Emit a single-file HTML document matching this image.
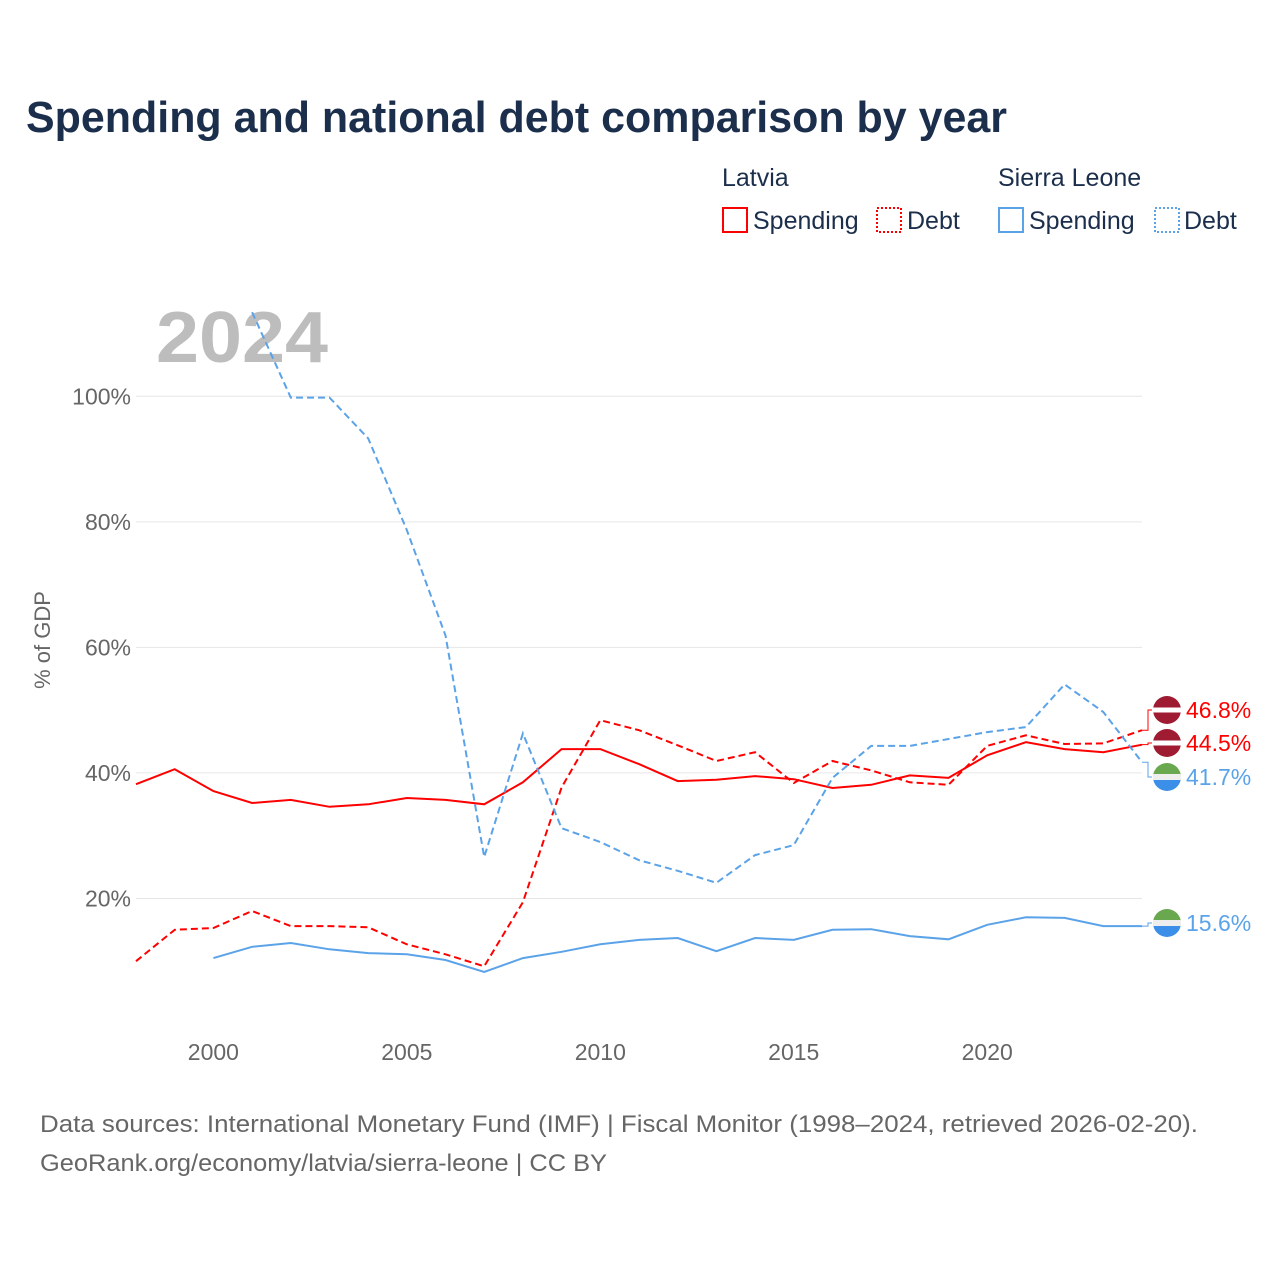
<!DOCTYPE html>
<html><head><meta charset="utf-8"><style>
body{margin:0;background:#fff;width:1280px;height:1280px;overflow:hidden;font-family:"Liberation Sans",sans-serif}
</style></head><body>
<svg id="chart" width="1280" height="1280" xmlns="http://www.w3.org/2000/svg">
<text x="26" y="132" font-size="44" font-weight="bold" fill="#1b2e4b" textLength="981" lengthAdjust="spacingAndGlyphs">Spending and national debt comparison by year</text>
<g font-size="25" fill="#1b2e4b">
<text x="722" y="186">Latvia</text>
<text x="998" y="186">Sierra Leone</text>
<g><rect x="723" y="208" width="24" height="24" fill="none" stroke="#f00" stroke-width="2"/><text x="753" y="229">Spending</text></g>
<g><rect x="877" y="208" width="24" height="24" fill="none" stroke="#f00" stroke-width="2" stroke-dasharray="2,2"/><text x="907" y="229">Debt</text></g>
<g><rect x="999" y="208" width="24" height="24" fill="none" stroke="#5ba3e8" stroke-width="2"/><text x="1029" y="229">Spending</text></g>
<g><rect x="1155" y="208" width="24" height="24" fill="none" stroke="#5ba3e8" stroke-width="2" stroke-dasharray="2,2"/><text x="1184" y="229">Debt</text></g>
</g>
<text x="156" y="362" font-size="72" font-weight="bold" fill="#bdbdbd" textLength="172" lengthAdjust="spacingAndGlyphs">2024</text>
<text transform="translate(50,640) rotate(-90)" text-anchor="middle" font-size="22" fill="#666">% of GDP</text>
<g id="grid"></g><g id="series"></g><g id="labels"></g>
<text x="40" y="1132" font-size="24" fill="#666" textLength="1158" lengthAdjust="spacingAndGlyphs">Data sources: International Monetary Fund (IMF) | Fiscal Monitor (1998–2024, retrieved 2026-02-20).</text>
<text x="40" y="1171" font-size="24" fill="#666" textLength="567" lengthAdjust="spacingAndGlyphs">GeoRank.org/economy/latvia/sierra-leone | CC BY</text>
</svg>
<script>
const years=[1998,1999,2000,2001,2002,2003,2004,2005,2006,2007,2008,2009,2010,2011,2012,2013,2014,2015,2016,2017,2018,2019,2020,2021,2022,2023,2024];
const lvSpending=[38.2,40.6,37.1,35.2,35.7,34.6,35.0,36.0,35.7,35.0,38.5,43.8,43.8,41.4,38.7,38.9,39.5,39.0,37.6,38.1,39.6,39.2,42.8,44.9,43.8,43.3,44.5];
const lvDebt=[10.0,15.0,15.3,18.0,15.6,15.6,15.4,12.7,11.1,9.2,19.4,37.7,48.4,46.8,44.4,41.9,43.3,38.4,41.9,40.4,38.5,38.1,44.3,46.0,44.6,44.7,46.8];
const slSpending=[null,null,10.5,12.3,12.9,11.9,11.3,11.1,10.2,8.3,10.5,11.5,12.7,13.4,13.7,11.6,13.7,13.4,15.0,15.1,14.0,13.5,15.8,17.0,16.9,15.6,15.6];
const slDebt=[null,null,null,113.4,99.8,99.8,93.3,78.7,61.9,26.6,46.3,31.2,29.0,26.1,24.4,22.5,26.9,28.5,39.2,44.3,44.3,45.4,46.5,47.3,54.1,49.7,41.7];
const yTicks=[20,40,60,80,100];
const xTicks=[2000,2005,2010,2015,2020];
const NS="http://www.w3.org/2000/svg";
const X=y=>136+(y-1998)*(1142-136)/26;
const Y=v=>1024-v*6.277;
function mk(t,a,p){const e=document.createElementNS(NS,t);for(const k in a)e.setAttribute(k,a[k]);p.appendChild(e);return e;}
const grid=document.getElementById('grid');
yTicks.forEach(t=>{
 const l=mk('line',{x1:136,x2:1142,y1:Y(t),y2:Y(t),stroke:'#e6e6e6','stroke-width':1},grid);
 
 
 const tx=mk('text',{x:131,y:Y(t)+8,'text-anchor':'end','font-size':23,fill:'#666'},grid);tx.textContent=t+'%';
 
 
});
xTicks.forEach(t=>{
 const tx=mk('text',{x:X(t),y:1060,'text-anchor':'middle','font-size':23,fill:'#666'},grid);tx.textContent=t;
 
 
});
const ser=document.getElementById('series');
function line(vals,color,dash,name){
 let d='';vals.forEach((v,i)=>{if(v==null)return;d+=(d?'L':'M')+X(years[i]).toFixed(1)+','+Y(Math.min(v,113.4)).toFixed(1);});
 const p=mk('path',{d:d,fill:'none',stroke:color,'stroke-width':2,'stroke-dasharray':dash},ser);
 
 
}
line(lvSpending,'#ff0000','none','latvia-spending-line');
line(lvDebt,'#ff0000','7,4','latvia-debt-line');
line(slSpending,'#5ba3e8','none','sierra-leone-spending-line');
line(slDebt,'#5ba3e8','7,4','sierra-leone-debt-line');
const lab=document.getElementById('labels');
const last=years.length-1;
function flag(cy,lv,vy,color,text,name){
 const g=mk('g',{},lab);
 
 
 mk('path',{d:`M1142,${vy} L1148,${vy} L1148,${cy} L1152,${cy}`,fill:'none',stroke:color,'stroke-width':1},g);
 const cx=1167,r=14;
 if(lv){mk('circle',{cx,cy,r,fill:'#9e1b32'},g);mk('rect',{x:cx-r,y:cy-2.5,width:2*r,height:5,fill:'#fff'},g);}
 else{mk('path',{d:`M${cx-r},${cy} A${r},${r} 0 0 1 ${cx+r},${cy}Z`,fill:'#6aa84f'},g);mk('path',{d:`M${cx-r},${cy} A${r},${r} 0 0 0 ${cx+r},${cy}Z`,fill:'#3b8fe8'},g);mk('rect',{x:cx-r,y:cy-3,width:2*r,height:6,fill:'#eee'},g);}
 const t=mk('text',{x:1186,y:cy+8,'font-size':23,fill:color},g);t.textContent=text;
}
flag(710,true,Y(lvDebt[last]),'#ff0000',lvDebt[last].toFixed(1)+'%','label-latvia-debt');
flag(743,true,Y(lvSpending[last]),'#ff0000',lvSpending[last].toFixed(1)+'%','label-latvia-spending');
flag(777,false,Y(slDebt[last]),'#5ba3e8',slDebt[last].toFixed(1)+'%','label-sierra-leone-debt');
flag(923,false,Y(slSpending[last]),'#5ba3e8',slSpending[last].toFixed(1)+'%','label-sierra-leone-spending');
</script>
</body></html>
